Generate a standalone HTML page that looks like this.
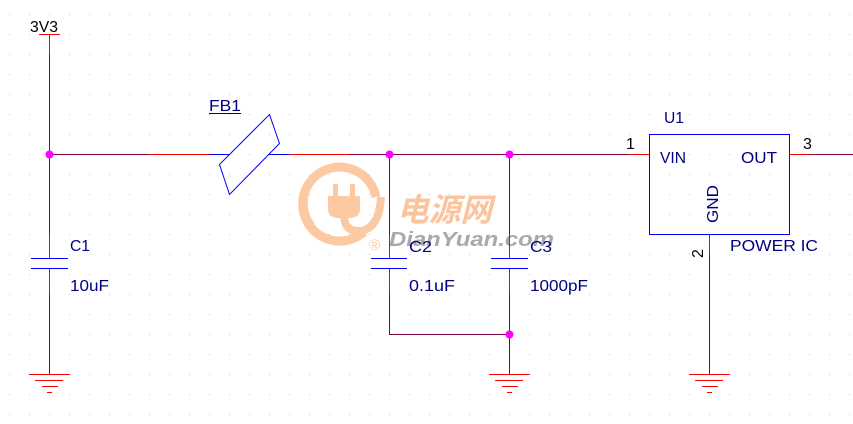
<!DOCTYPE html>
<html><head><meta charset="utf-8"><style>
html,body{margin:0;padding:0;background:#fff;}
svg{display:block;}
text{font-family:"Liberation Sans",Arial,sans-serif;font-size:16px;}
</style></head><body>
<svg width="853" height="424" viewBox="0 0 853 424" xmlns="http://www.w3.org/2000/svg">
<defs>
<pattern id="g" width="20" height="20" patternUnits="userSpaceOnUse">
<rect x="9" y="14" width="1" height="1" fill="#c4c4c4"/>
</pattern>
</defs>
<rect width="853" height="424" fill="#fff"/>
<rect width="853" height="424" fill="url(#g)"/>

<!-- watermark -->
<g fill="#fdc9a2" stroke="none">
<path d="M376 197 A37 37 0 1 0 364 232" fill="none" stroke="#fdc9a2" stroke-width="9"/>
<path d="M307 190 A37 37 0 0 0 312 225" fill="none" stroke="#fdc9a2" stroke-width="6"/>
<rect x="333" y="184" width="5" height="14"/>
<rect x="350" y="184" width="5" height="14"/>
<path d="M328 196 H360 V208 Q360 218 350 218 H338 Q328 218 328 208 Z"/>
<path d="M344 215 Q344 232 360 231 Q379 229 381 197" fill="none" stroke="#fdc9a2" stroke-width="8"/>
</g>
<text x="397" y="221" textLength="95" lengthAdjust="spacingAndGlyphs" style="font-family:'Noto Sans CJK SC','WenQuanYi Zen Hei',sans-serif;font-size:32px;font-weight:bold;font-style:italic" fill="#fcc49c">电源网</text>
<text x="389" y="246" textLength="165" lengthAdjust="spacingAndGlyphs" style="font-size:20px;font-weight:bold;font-style:italic" fill="#a9a9a9">DianYuan.com</text>
<text x="369" y="250" style="font-size:15px" fill="#fcc49c">®</text>

<g stroke-width="1" fill="none" shape-rendering="crispEdges">
<!-- left net -->
<line x1="49.5" y1="34" x2="49.5" y2="54" stroke="#ff0000"/>
<line x1="39" y1="34.5" x2="60" y2="34.5" stroke="#ff0000"/>
<line x1="49.5" y1="54" x2="49.5" y2="235" stroke="#800040"/>
<line x1="49.5" y1="235" x2="49.5" y2="258" stroke="#ff0000"/>
<line x1="31" y1="258.5" x2="68" y2="258.5" stroke="#0000ff"/>
<line x1="31" y1="268.5" x2="68" y2="268.5" stroke="#0000ff"/>
<line x1="49.5" y1="269" x2="49.5" y2="293" stroke="#ff0000"/>
<line x1="49.5" y1="293" x2="49.5" y2="374" stroke="#800040"/>

<!-- main horizontal -->
<line x1="49" y1="154.5" x2="149" y2="154.5" stroke="#800040"/>
<line x1="149" y1="154.5" x2="209" y2="154.5" stroke="#ff0000"/>
<line x1="209" y1="154.5" x2="229" y2="154.5" stroke="#0000ff"/>
<line x1="268" y1="154.5" x2="289" y2="154.5" stroke="#0000ff"/>
<line x1="289" y1="154.5" x2="349" y2="154.5" stroke="#ff0000"/>
<line x1="349" y1="154.5" x2="629" y2="154.5" stroke="#800040"/>
<line x1="629" y1="154.5" x2="649" y2="154.5" stroke="#ff0000"/>
<line x1="790" y1="154.5" x2="809" y2="154.5" stroke="#ff0000"/>
<line x1="809" y1="154.5" x2="853" y2="154.5" stroke="#800040"/>

<!-- C2 -->
<line x1="389.5" y1="154" x2="389.5" y2="235" stroke="#800040"/>
<line x1="389.5" y1="235" x2="389.5" y2="258" stroke="#ff0000"/>
<line x1="371" y1="258.5" x2="407" y2="258.5" stroke="#0000ff"/>
<line x1="371" y1="268.5" x2="407" y2="268.5" stroke="#0000ff"/>
<line x1="389.5" y1="269" x2="389.5" y2="293" stroke="#ff0000"/>
<line x1="389.5" y1="293" x2="389.5" y2="334" stroke="#800040"/>
<line x1="389" y1="334.5" x2="509" y2="334.5" stroke="#800040"/>

<!-- C3 -->
<line x1="509.5" y1="154" x2="509.5" y2="235" stroke="#800040"/>
<line x1="509.5" y1="235" x2="509.5" y2="258" stroke="#ff0000"/>
<line x1="491" y1="258.5" x2="528" y2="258.5" stroke="#0000ff"/>
<line x1="491" y1="268.5" x2="528" y2="268.5" stroke="#0000ff"/>
<line x1="509.5" y1="269" x2="509.5" y2="293" stroke="#ff0000"/>
<line x1="509.5" y1="293" x2="509.5" y2="374" stroke="#800040"/>

<!-- U1 pin 2 -->
<line x1="709.5" y1="235" x2="709.5" y2="254" stroke="#ff0000"/>
<line x1="709.5" y1="254" x2="709.5" y2="374" stroke="#800040"/>

<!-- U1 box -->
<rect x="649.5" y="134.5" width="140" height="100" stroke="#0000ff"/>

<!-- grounds -->
<g stroke="#ff0000">
<line x1="29" y1="374.5" x2="70" y2="374.5"/><line x1="35" y1="380.5" x2="63" y2="380.5"/><line x1="42" y1="386.5" x2="58" y2="386.5"/><line x1="47" y1="392.5" x2="52" y2="392.5"/>
<line x1="489" y1="374.5" x2="530" y2="374.5"/><line x1="495" y1="380.5" x2="523" y2="380.5"/><line x1="502" y1="386.5" x2="518" y2="386.5"/><line x1="507" y1="392.5" x2="512" y2="392.5"/>
<line x1="689" y1="374.5" x2="730" y2="374.5"/><line x1="695" y1="380.5" x2="723" y2="380.5"/><line x1="702" y1="386.5" x2="718" y2="386.5"/><line x1="707" y1="392.5" x2="712" y2="392.5"/>
</g>
</g>

<!-- ferrite bead -->
<polygon points="269.5,114.5 279.5,143.5 229.5,194.5 219.5,164.5" fill="none" stroke="#0000ff" stroke-width="1"/>

<!-- junctions -->
<g fill="#ff00ff">
<circle cx="49.5" cy="154.5" r="4"/>
<circle cx="389.5" cy="154.5" r="4"/>
<circle cx="509.5" cy="154.5" r="4"/>
<circle cx="509.5" cy="334.5" r="4"/>
</g>

<!-- labels -->
<text x="30" y="32" textLength="28" lengthAdjust="spacingAndGlyphs" fill="#000">3V3</text>
<text x="209" y="111" textLength="32" lengthAdjust="spacingAndGlyphs" fill="#000080">FB1</text>
<line x1="209" y1="113.5" x2="241" y2="113.5" stroke="#000080" stroke-width="1"/>
<g fill="#000080">
<text x="70" y="251" textLength="20" lengthAdjust="spacingAndGlyphs">C1</text>
<text x="70" y="291" textLength="39" lengthAdjust="spacingAndGlyphs">10uF</text>
<text x="409" y="252" textLength="23" lengthAdjust="spacingAndGlyphs">C2</text>
<text x="409" y="291" textLength="46" lengthAdjust="spacingAndGlyphs">0.1uF</text>
<text x="530" y="252" textLength="22" lengthAdjust="spacingAndGlyphs">C3</text>
<text x="530" y="291" textLength="58" lengthAdjust="spacingAndGlyphs">1000pF</text>
<text x="664" y="123" textLength="20" lengthAdjust="spacingAndGlyphs">U1</text>
<text x="660" y="163" textLength="26" lengthAdjust="spacingAndGlyphs">VIN</text>
<text x="741" y="163" textLength="36" lengthAdjust="spacingAndGlyphs">OUT</text>
<text transform="translate(718,223) rotate(-90)" x="0" y="0" textLength="38" lengthAdjust="spacingAndGlyphs">GND</text>
<text x="730" y="251" textLength="88" lengthAdjust="spacingAndGlyphs">POWER IC</text>
</g>
<g fill="#000">
<text x="626" y="149">1</text>
<text x="803" y="149">3</text>
<text transform="translate(703,258) rotate(-90)" x="0" y="0">2</text>
</g>
</svg>
</body></html>
